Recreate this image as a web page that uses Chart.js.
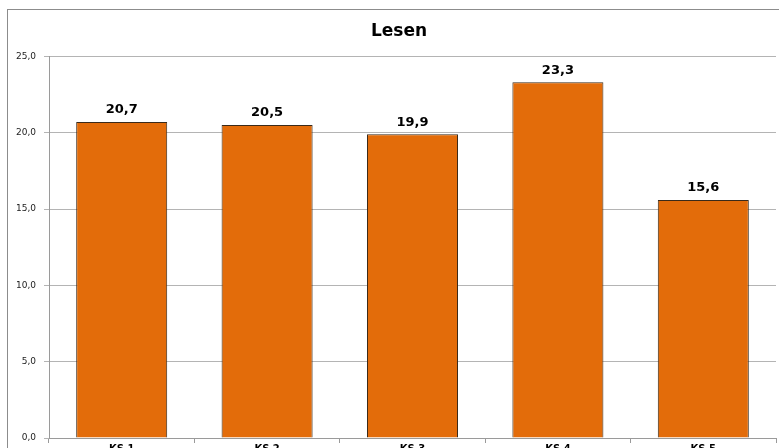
<!DOCTYPE html>
<html>
<head>
<meta charset="utf-8">
<script src="https://cdn.jsdelivr.net/npm/chart.js@4/dist/chart.umd.min.js"></script>
<style>
  html, body { margin: 0; padding: 0; background: #fff; overflow: hidden; }
  #wrap { position: relative; width: 779px; height: 448px; overflow: hidden; }
  #frame { position: absolute; left: 7px; top: 9px; width: 900px; height: 600px; border: 1px solid #8c8c8c; }
  #chart { position: absolute; left: 0; top: 0; }
</style>
</head>
<body>
<div id="wrap">
  <div id="frame"></div>
  <canvas id="chart" width="779" height="455"></canvas>
</div>
<script>
// Lesen results per class group
const labels = ['KS 1', 'KS 2', 'KS 3', 'KS 4', 'KS 5'];
const values = [20.7, 20.5, 19.9, 23.3, 15.6];
const yTicks = [0, 5, 10, 15, 20, 25];

const fmt = v => v.toFixed(1).replace('.', ',');

// value labels above each bar
const barValues = {
    id: 'barValues',
    afterDatasetsDraw(chart) {
        const ctx = chart.ctx;
        const meta = chart.getDatasetMeta(0);
        ctx.save();
        ctx.font = 'bold 13px "DejaVu Sans"';
        ctx.fillStyle = '#000';
        ctx.textAlign = 'center';
        ctx.textBaseline = 'middle';
        meta.data.forEach((bar, i) => {
            ctx.fillText(fmt(values[i]), bar.x, bar.y - 12);
        });
        ctx.restore();
    }
};

// centre the title over the frame rather than the canvas
const titleShift = {
    id: 'titleShift',
    afterLayout(chart) {
        if (chart.titleBlock) chart.titleBlock.left = 22;
    }
};

new Chart(document.getElementById('chart'), {
    type: 'bar',
    data: {
        labels,
        datasets: [{
            data: values,
            backgroundColor: '#E36C0A',
            borderColor: '#3a2a1a',
            borderWidth: 1,
            barPercentage: 0.626,
            categoryPercentage: 1
        }]
    },
    options: {
        responsive: false,
        animation: false,
        layout: { padding: { top: 10, left: 0, right: 3, bottom: 0 } },
        plugins: {
            legend: { display: false },
            tooltip: { enabled: false },
            title: {
                display: true,
                text: 'Lesen',
                color: '#000',
                font: { family: 'DejaVu Sans', size: 17, weight: 'bold' },
                padding: { top: 11, bottom: 15 }
            }
        },
        scales: {
            x: {
                grid: { drawOnChartArea: false, color: '#9a9a9a', tickLength: 5 },
                border: { color: '#9a9a9a' },
                ticks: {
                    color: '#000',
                    padding: 0,
                    font: { family: 'DejaVu Sans', size: 10, weight: 'bold' }
                }
            },
            y: {
                min: 0,
                max: 25,
                afterFit(scale) { scale.width = 49; },
                afterBuildTicks(scale) { scale.ticks = yTicks.map(v => ({ value: v })); },
                grid: { color: '#b4b4b4', tickLength: 5 },
                border: { color: '#9a9a9a' },
                ticks: {
                    color: '#222',
                    padding: 8,
                    font: { family: 'DejaVu Sans', size: 9 },
                    callback: v => fmt(v)
                }
            }
        }
    },
    plugins: [barValues, titleShift]
});
</script>
</body>
</html>
